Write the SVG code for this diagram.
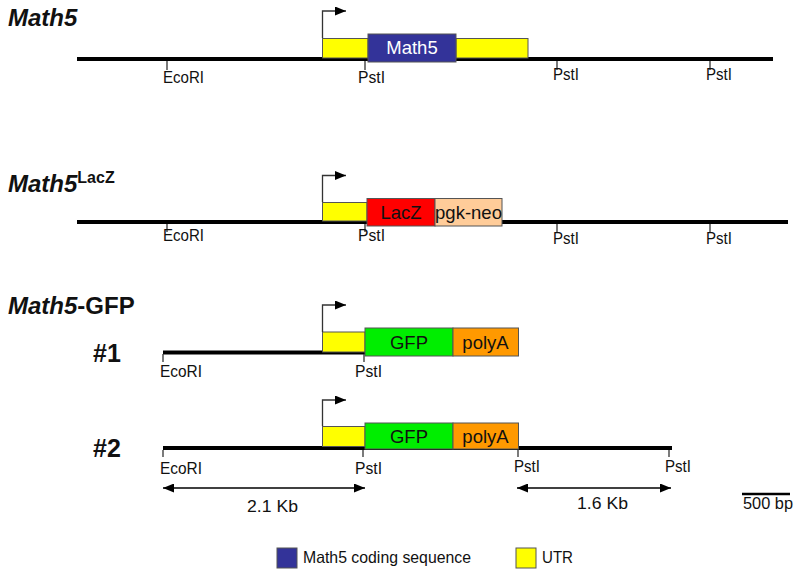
<svg xmlns="http://www.w3.org/2000/svg" width="800" height="575" viewBox="0 0 800 575">
<defs>
<marker id="ah" viewBox="0 0 11 9" refX="11" refY="4.5" markerWidth="11" markerHeight="9" markerUnits="userSpaceOnUse" orient="auto-start-reverse"><path d="M0,0 L11,4.5 L0,9 Z" fill="#000"/></marker>
<style>
.dna{stroke:#000;stroke-width:4;fill:none}
.tick{stroke:#333;stroke-width:1.3;fill:none}
.prom{stroke:#333;stroke-width:1.3;fill:none}
.dim{stroke:#000;stroke-width:1.5;fill:none}
.box{stroke:#555;stroke-width:1}
.utr{fill:#ffff00}
.cds{fill:#333399}
.lacz{fill:#ff0000}
.neo{fill:#ffcc99}
.gfp{fill:#00ee00}
.pa{fill:#ff9900}
text{font-family:"Liberation Sans",Arial,sans-serif;fill:#111}
.site{font-size:17px}
.bt{font-size:18.5px;text-anchor:middle}
.title{font-size:24px;font-weight:bold}
.num{font-size:25px;font-weight:bold}
.lbl{font-size:16.5px}
</style>
</defs>
<rect width="800" height="575" fill="#fff"/>

<g id="row-math5">
<text class="title" x="8" y="26"><tspan font-style="italic">Math5</tspan></text>
<line class="dna" x1="77" y1="59" x2="773" y2="59"/>
<line class="tick" x1="167" y1="61" x2="167" y2="70"/>
<line class="tick" x1="365" y1="61" x2="365" y2="70"/>
<line class="tick" x1="557" y1="61" x2="557" y2="70"/>
<line class="tick" x1="710" y1="61" x2="710" y2="70"/>
<text class="site" x="163" y="83" textLength="41" lengthAdjust="spacingAndGlyphs">EcoRI</text>
<text class="site" x="358" y="83" textLength="27" lengthAdjust="spacingAndGlyphs">PstI</text>
<text class="site" x="553" y="80" textLength="26" lengthAdjust="spacingAndGlyphs">PstI</text>
<text class="site" x="706" y="80" textLength="26" lengthAdjust="spacingAndGlyphs">PstI</text>
<rect class="box utr" x="322.5" y="38.5" width="45.5" height="19.5"/>
<rect class="box utr" x="456" y="38.5" width="72" height="19.5"/>
<rect class="box cds" x="368" y="34" width="88" height="28"/>
<text class="bt" x="412" y="54" style="fill:#fff">Math5</text>
<path class="prom" d="M322.5,38 V11 H346" marker-end="url(#ah)"/>
</g>

<g id="row-lacz">
<text class="title" x="8" y="192"><tspan font-style="italic">Math5</tspan><tspan font-size="16px" dy="-9">LacZ</tspan></text>
<line class="dna" x1="77" y1="222" x2="788" y2="222"/>
<line class="tick" x1="167" y1="224" x2="167" y2="232"/>
<line class="tick" x1="365" y1="224" x2="365" y2="232"/>
<line class="tick" x1="557" y1="224" x2="557" y2="232"/>
<line class="tick" x1="710" y1="224" x2="710" y2="232"/>
<text class="site" x="163" y="241" textLength="41" lengthAdjust="spacingAndGlyphs">EcoRI</text>
<text class="site" x="358" y="241" textLength="27" lengthAdjust="spacingAndGlyphs">PstI</text>
<text class="site" x="553" y="244" textLength="26" lengthAdjust="spacingAndGlyphs">PstI</text>
<text class="site" x="706" y="244" textLength="26" lengthAdjust="spacingAndGlyphs">PstI</text>
<rect class="box utr" x="322.5" y="202.5" width="44.5" height="18.5"/>
<rect class="box lacz" x="367" y="198.5" width="68" height="27.5"/>
<rect class="box neo" x="435" y="198.5" width="67" height="27.5"/>
<text class="bt" x="401" y="218.5">LacZ</text>
<text class="bt" x="468.5" y="218.5">pgk-neo</text>
<path class="prom" d="M322.5,202 V175.5 H346" marker-end="url(#ah)"/>
</g>

<g id="title-gfp">
<text class="title" x="8" y="314"><tspan font-style="italic">Math5</tspan>-GFP</text>
</g>

<g id="row-gfp1">
<text class="num" x="93" y="362">#1</text>
<line class="dna" x1="163" y1="352.5" x2="365" y2="352.5"/>
<line class="tick" x1="163" y1="354" x2="163" y2="362"/>
<line class="tick" x1="364" y1="354" x2="364" y2="362"/>
<text class="site" x="160" y="377" textLength="42" lengthAdjust="spacingAndGlyphs">EcoRI</text>
<text class="site" x="355" y="377" textLength="27" lengthAdjust="spacingAndGlyphs">PstI</text>
<rect class="box utr" x="322.5" y="332" width="42.5" height="20"/>
<rect class="box gfp" x="365" y="328" width="88" height="28"/>
<rect class="box pa" x="453" y="328" width="65.5" height="28"/>
<text class="bt" x="409" y="348.5">GFP</text>
<text class="bt" x="485.5" y="348.5">polyA</text>
<path class="prom" d="M322.5,332 V305 H346" marker-end="url(#ah)"/>
</g>

<g id="row-gfp2">
<text class="num" x="93" y="457">#2</text>
<line class="dna" x1="163" y1="448" x2="672" y2="448"/>
<line class="tick" x1="163" y1="450" x2="163" y2="457"/>
<line class="tick" x1="363" y1="450" x2="363" y2="457"/>
<line class="tick" x1="518" y1="450" x2="518" y2="457"/>
<line class="tick" x1="669" y1="450" x2="669" y2="457"/>
<text class="site" x="160" y="474" textLength="42" lengthAdjust="spacingAndGlyphs">EcoRI</text>
<text class="site" x="355" y="474" textLength="27" lengthAdjust="spacingAndGlyphs">PstI</text>
<text class="site" x="514" y="472" textLength="26" lengthAdjust="spacingAndGlyphs">PstI</text>
<text class="site" x="665" y="472" textLength="26" lengthAdjust="spacingAndGlyphs">PstI</text>
<rect class="box utr" x="322.5" y="426.5" width="42.5" height="20"/>
<rect class="box gfp" x="365" y="423" width="88" height="26"/>
<rect class="box pa" x="453" y="423" width="65.5" height="26"/>
<text class="bt" x="409" y="442.5">GFP</text>
<text class="bt" x="485.5" y="442.5">polyA</text>
<path class="prom" d="M322.5,426 V400 H346" marker-end="url(#ah)"/>
</g>

<g id="connectors">
<line class="dim" x1="163" y1="488" x2="365" y2="488" marker-start="url(#ah)" marker-end="url(#ah)"/>
<line class="dim" x1="517" y1="488" x2="671" y2="488" marker-start="url(#ah)" marker-end="url(#ah)"/>
</g>

<g id="dimensions">
<text class="lbl" x="247" y="512" textLength="51" lengthAdjust="spacingAndGlyphs">2.1 Kb</text>
<text class="lbl" x="577" y="509" textLength="51" lengthAdjust="spacingAndGlyphs">1.6 Kb</text>
<line x1="742" y1="494" x2="790" y2="494" stroke="#000" stroke-width="2.5"/>
<text class="lbl" x="743" y="509" textLength="50" lengthAdjust="spacingAndGlyphs">500 bp</text>
</g>

<g id="legend">
<rect class="box cds" x="277" y="548" width="20" height="20"/>
<text class="lbl" x="303" y="563" textLength="168" lengthAdjust="spacingAndGlyphs">Math5 coding sequence</text>
<rect class="box utr" x="516" y="548" width="20" height="20"/>
<text class="lbl" x="542" y="563" textLength="31" lengthAdjust="spacingAndGlyphs">UTR</text>
</g>
</svg>
